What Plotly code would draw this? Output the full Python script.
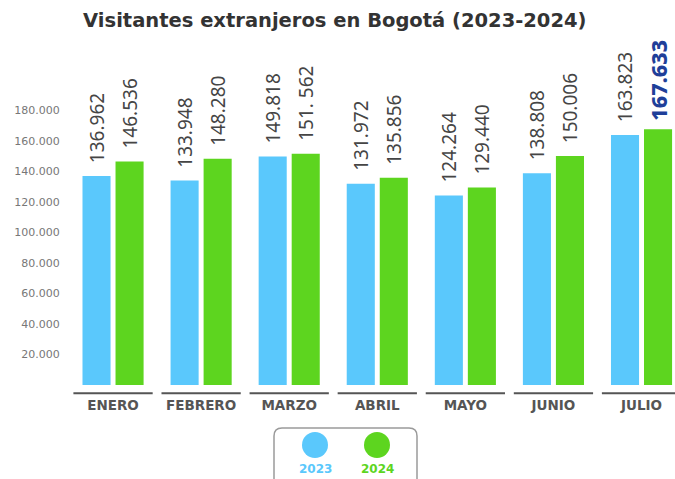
import plotly.graph_objects as go

months = ["ENERO", "FEBRERO", "MARZO", "ABRIL", "MAYO", "JUNIO", "JULIO"]
v2023 = [136962, 133948, 149818, 131972, 124264, 138808, 163823]
v2024 = [146536, 148280, 151562, 135856, 129440, 150006, 167633]
t2023 = ["136.962", "133.948", "149.818", "131.972", "124.264", "138.808", "163.823"]
t2024 = ["146.536", "148.280", "151. 562", "135.856", "129.440", "150.006", "167.633"]
ytickvals = [20000, 40000, 60000, 80000, 100000, 120000, 140000, 160000, 180000]
yticktext = ["20.000", "40.000", "60.000", "80.000", "100.000", "120.000", "140.000", "160.000", "180.000"]
years = ["2023", "2024"]

BLUE = "#5AC8FC"
GREEN = "#5DD51F"
LBL = "#454545"
PAD = "\u00a0\u00a0"

n = len(months)
fig = go.Figure()
fig.add_trace(go.Bar(
    x=months, y=v2023, name=years[0], marker=dict(color=BLUE, line=dict(width=0)),
    text=[PAD + t for t in t2023], textposition="outside", textangle=-90, cliponaxis=False,
    constraintext="none",
    textfont=dict(family="Noto Sans", size=19, color=LBL),
))
text24 = [PAD + t for t in t2024[:-1]] + ["\u00a0" + t2024[-1]]
fig.add_trace(go.Bar(
    x=months, y=v2024, name=years[1], marker=dict(color=GREEN, line=dict(width=0)),
    text=text24, textposition="outside", textangle=-90, cliponaxis=False,
    constraintext="none",
    textfont=dict(family="Noto Sans", size=[19] * (n - 1) + [21.5],
                  color=[LBL] * (n - 1) + ["#1F3F99"],
                  weight=[400] * (n - 1) + [800]),
))

shapes = []
for i in range(n):
    shapes.append(dict(type="line", xref="x", yref="paper", x0=i - 0.45, x1=i + 0.45,
                       y0=-0.025, y1=-0.025, line=dict(color="#555555", width=2)))
# legend box (pixel sized, anchored at plot origin)
shapes.append(dict(type="path", xref="paper", yref="paper", xsizemode="pixel", ysizemode="pixel",
                   xanchor=0, yanchor=0,
                   path="M 205,-115 L 205,-51 Q 205,-43 213,-43 L 340,-43 Q 348,-43 348,-51 L 348,-115",
                   line=dict(color="#9A9A9A", width=1.5)))
shapes.append(dict(type="circle", xref="paper", yref="paper", xsizemode="pixel", ysizemode="pixel",
                   xanchor=0, yanchor=0, x0=233, x1=259, y0=-73, y1=-47,
                   fillcolor=BLUE, line=dict(width=0)))
shapes.append(dict(type="circle", xref="paper", yref="paper", xsizemode="pixel", ysizemode="pixel",
                   xanchor=0, yanchor=0, x0=295, x1=321, y0=-73, y1=-47,
                   fillcolor=GREEN, line=dict(width=0)))

annotations = [
    dict(text="<b>" + years[0] + "</b>", xref="paper", yref="paper", x=(315 - 69) / 606, y=-84 / 325,
         xanchor="center", yanchor="middle",
         showarrow=False, font=dict(family="DejaVu Sans", size=12, color=BLUE)),
    dict(text="<b>" + years[1] + "</b>", xref="paper", yref="paper", x=(377 - 69) / 606, y=-84 / 325,
         xanchor="center", yanchor="middle",
         showarrow=False, font=dict(family="DejaVu Sans", size=12, color=GREEN)),
]

fig.update_layout(
    width=675, height=479,
    margin=dict(l=69, r=0, t=60, b=94),
    paper_bgcolor="white", plot_bgcolor="white",
    title=dict(text="<b>Visitantes extranjeros en Bogotá (2023-2024)</b>", x=0.496, xref="container",
               xanchor="center", y=0.958, yanchor="middle",
               font=dict(family="DejaVu Sans", size=19.5, color="#333333")),
    bargap=0.25, bargroupgap=0.15, barmode="group",
    showlegend=False,
    xaxis=dict(range=[-0.5, 6.38], showline=False, showgrid=False, zeroline=False,
               ticks="outside", ticklen=8, tickcolor="rgba(0,0,0,0)",
               tickfont=dict(family="DejaVu Sans", size=13.5, color="#555555", weight=700)),
    yaxis=dict(range=[0, 213000], tickvals=ytickvals, ticktext=yticktext, showgrid=False,
               zeroline=False, showline=False, ticks="outside", ticklen=6,
               tickcolor="rgba(0,0,0,0)",
               tickfont=dict(family="DejaVu Sans", size=11, color="#777777")),
    shapes=shapes, annotations=annotations,
)

fig.write_html("out.html", config={"displayModeBar": False},
               post_script="document.body.style.margin='0';document.body.style.padding='0';")
